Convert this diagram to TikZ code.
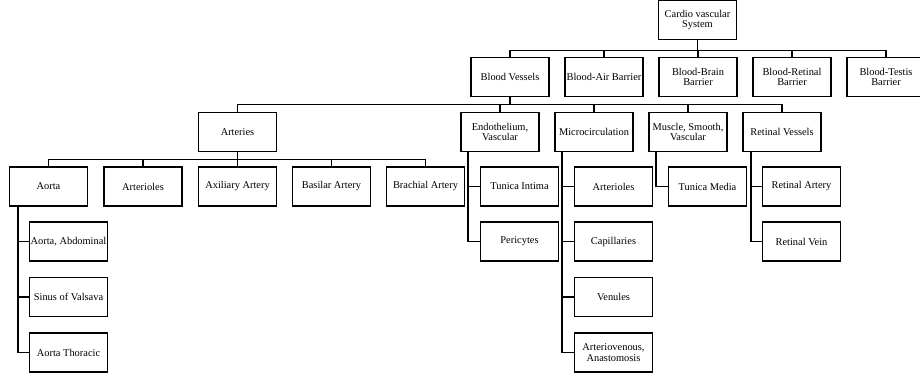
\documentclass[tikz,border=0pt]{standalone}
\usepackage{fontspec}
\setmainfont{Liberation Serif}
\usepackage{tikz}

\begin{document}
\begin{tikzpicture}[x=0.75pt,y=0.75pt,yscale=-1,xscale=1,
    box/.style={draw, line width=1.4pt, minimum width=58.5pt, minimum height=29.25pt,
        inner sep=0.5pt, align=center, font=\fontsize{7.8}{7.9}\selectfont},
    link/.style={line width=1.4pt}]
    \useasboundingbox (0,0) rectangle (920,376);

    % Top
    \draw (697.5,20) node [box] (cvs) {Cardio vascular\\System};

    % Barriers row
    \draw (510,77) node [box] (bv)  {Blood Vessels};
    \draw (604,77) node [box] (bab) {Blood-Air Barrier};
    \draw (698,77) node [box] (bbb) {Blood-Brain\\Barrier};
    \draw (792,77) node [box] (brb) {Blood-Retinal\\Barrier};
    \draw (886,77) node [box] (btb) {Blood-Testis\\Barrier};

    % Vessels row
    \draw (237.5,132) node [box] (art)    {Arteries};
    \draw (500,132)   node [box] (endo)   {Endothelium,\\Vascular};
    \draw (594,132)   node [box] (micro)  {Microcirculation};
    \draw (688,132)   node [box] (muscle) {Muscle, Smooth,\\Vascular};
    \draw (782,132)   node [box] (retv)   {Retinal Vessels};

    % Arteries row
    \draw (48.5,186.5)  node [box] (aorta) {Aorta};
    \draw (143,186.5)   node [box] (artl)  {Arterioles};
    \draw (237.5,186.5) node [box] (axil)  {Axiliary Artery};
    \draw (331.5,186.5) node [box] (basil) {Basilar Artery};
    \draw (425.5,186.5) node [box] (brach) {Brachial Artery};

    % Aorta list
    \draw (68.5,241.5) node [box] (abd)   {Aorta, Abdominal};
    \draw (68.5,297)   node [box] (sinus) {Sinus of Valsava};
    \draw (68.5,352.5) node [box] (thor)  {Aorta Thoracic};

    % Endothelium list
    \draw (519.5,186.5) node [box] (intima) {Tunica Intima};
    \draw (519.5,241.5) node [box] (peri)   {Pericytes};

    % Microcirculation list
    \draw (613.5,186.5) node [box] (mart)  {Arterioles};
    \draw (613.5,241.5) node [box] (capil) {Capillaries};
    \draw (613.5,297)   node [box] (venul) {Venules};
    \draw (613.5,352.5) node [box] (anast) {Arteriovenous,\\Anastomosis};

    % Muscle list
    \draw (707.5,186.5) node [box] (media) {Tunica Media};

    % Retinal list
    \draw (801.5,186.5) node [box] (rart)  {Retinal Artery};
    \draw (801.5,241.5) node [box] (rvein) {Retinal Vein};

    % Buses
    \foreach \c in {bv,bab,bbb,brb,btb}
        \draw [link] (cvs.south) -- ++(0,10) -| (\c.north);
    \foreach \c in {art,endo,micro,muscle,retv}
        \draw [link] (bv.south) -- ++(0,7) -| (\c.north);
    \foreach \c in {aorta,artl,axil,basil,brach}
        \draw [link] (art.south) -- ++(0,7) -| (\c.north);

    % Side lists
    \foreach \c in {abd,sinus,thor}
        \draw [link] (aorta.south west) ++(9,0) |- (\c.west);
    \foreach \c in {intima,peri}
        \draw [link] (endo.south west) ++(7.5,0) |- (\c.west);
    \foreach \c in {mart,capil,venul,anast}
        \draw [link] (micro.south west) ++(8,0) |- (\c.west);
    \draw [link] (muscle.south west) ++(8,0) |- (media.west);
    \foreach \c in {rart,rvein}
        \draw [link] (retv.south west) ++(8.5,0) |- (\c.west);

\end{tikzpicture}
\end{document}
